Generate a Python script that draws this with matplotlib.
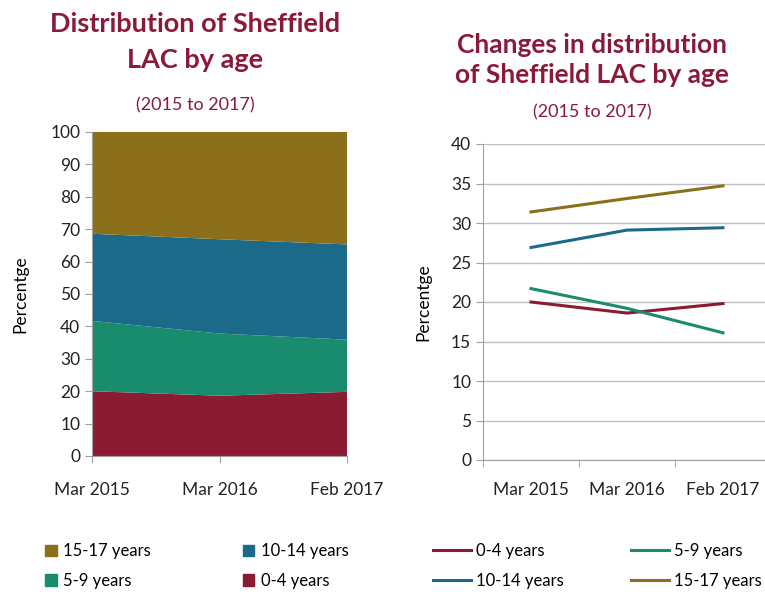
import numpy as np
import matplotlib.pyplot as plt
from matplotlib.lines import Line2D
from matplotlib.patches import Patch

plt.rcParams['font.family'] = ['Lato', 'DejaVu Sans']

periods = ['Mar 2015', 'Mar 2016', 'Feb 2017']
age_groups = ['0-4 years', '5-9 years', '10-14 years', '15-17 years']
age_0_4 = [20.0, 18.6, 19.8]
age_5_9 = [21.7, 19.2, 16.1]
age_10_14 = [26.9, 29.1, 29.4]
age_15_17 = [31.4, 33.1, 34.7]

colors = ['#8b1a33', '#1a8c6e', '#1b6a8a', '#8b6f1a']
title_col = '#8b1a3a'
grey = '#a0a0a0'
W, H = 765, 597

fig = plt.figure(figsize=(W / 100, H / 100), dpi=100)

def px_axes(x0, y0, x1, y1):
    return fig.add_axes([x0 / W, 1 - y1 / H, (x1 - x0) / W, (y1 - y0) / H])

series = [age_0_4, age_5_9, age_10_14, age_15_17]
x = np.arange(len(periods))

# left: stacked area
ax1 = px_axes(92, 132, 347, 456)
ax1.stackplot(x, *series, colors=colors)
ax1.set_xlim(0, 2)
ax1.set_ylim(0, 100)
ax1.set_yticks(range(0, 101, 10))
ax1.set_xticks(x)
ax1.set_xticklabels(periods)
ax1.set_ylabel('Percentge', fontsize=12.5, labelpad=16)
for s in ['top', 'right']:
    ax1.spines[s].set_visible(False)
for s in ['left', 'bottom']:
    ax1.spines[s].set_color(grey)
ax1.tick_params(colors=grey, labelcolor='#222222', labelsize=12.5, length=5)
ax1.tick_params(axis='x', pad=14)

# right: lines
ax2 = px_axes(483, 144, 771, 460)
for vals, c in zip(series, colors):
    ax2.plot(x, vals, color=c, lw=2.2)
ax2.set_xlim(-0.5, 2.5)
ax2.set_ylim(0, 40)
ax2.set_yticks(range(0, 41, 5))
ax2.set_xticks(x)
ax2.set_xticklabels(periods)
ax2.set_xticks([-0.5, 0.5, 1.5, 2.5], minor=True)
ax2.tick_params(axis='x', which='major', length=0, pad=16)
ax2.tick_params(axis='x', which='minor', length=5, color=grey)
ax2.tick_params(axis='y', length=5, color=grey)
ax2.tick_params(labelcolor='#222222', labelsize=12.5)
ax2.grid(axis='y', color='#c0c0c0', lw=1)
ax2.set_axisbelow(True)
ax2.set_ylabel('Percentge', fontsize=12.5, labelpad=14)
for s in ['top', 'right']:
    ax2.spines[s].set_visible(False)
for s in ['left', 'bottom']:
    ax2.spines[s].set_color(grey)

# titles
fig.text(195 / W, 1 - 42 / H, 'Distribution of Sheffield\nLAC by age', ha='center', va='center',
         fontsize=19.5, fontweight='bold', color=title_col, linespacing=1.6)
fig.text(195 / W, 1 - 105 / H, '(2015 to 2017)', ha='center', va='center', fontsize=13, color=title_col)
fig.text(592 / W, 1 - 60 / H, 'Changes in distribution\nof Sheffield LAC by age', ha='center', va='center',
         fontsize=19, fontweight='bold', color=title_col, linespacing=1.3)
fig.text(592 / W, 1 - 112 / H, '(2015 to 2017)', ha='center', va='center', fontsize=13, color=title_col)

# legends (filled column by column)
order_left = [3, 1, 2, 0]
h_left = [Patch(color=colors[i]) for i in order_left]
fig.legend(h_left, [age_groups[i] for i in order_left], ncol=2, loc='center left',
           bbox_to_anchor=(30 / W, 1 - 566 / H), frameon=False, fontsize=12,
           handlelength=0.7, handleheight=0.7, columnspacing=5.5, handletextpad=0.4, labelspacing=0.8)
order_right = [0, 2, 1, 3]
h_right = [Line2D([], [], color=colors[i], lw=2.2) for i in order_right]
fig.legend(h_right, [age_groups[i] for i in order_right], ncol=2, loc='center left',
           bbox_to_anchor=(418 / W, 1 - 566 / H), frameon=False, fontsize=12,
           handlelength=2.3, columnspacing=4.0, handletextpad=0.3, labelspacing=0.8)

fig.savefig('out.png', dpi=100)
